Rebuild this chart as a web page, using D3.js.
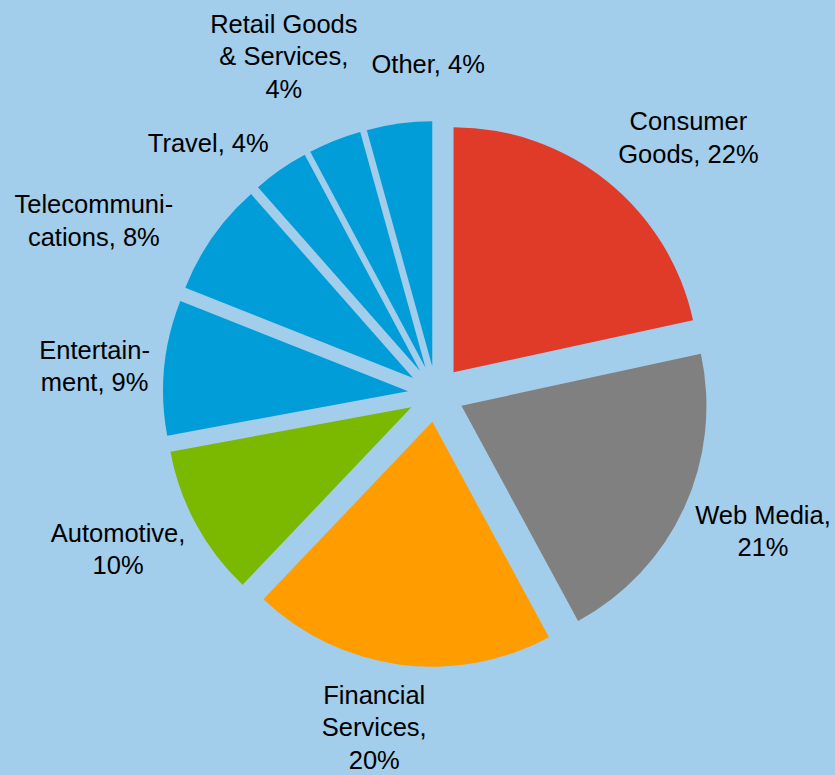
<!DOCTYPE html>
<html>
<head>
<meta charset="utf-8">
<script src="https://cdn.jsdelivr.net/npm/d3@7"></script>
<style>
  html, body { margin: 0; padding: 0; background: #a2cdeb; }
  svg { display: block; }
</style>
</head>
<body>
<div id="chart"></div>
<script>
// shares of each sector (percent)
const categories = ["Consumer Goods", "Web Media", "Financial Services", "Automotive",
  "Entertainment", "Telecommunications", "Travel", "Retail Goods & Services", "Other"];
const values = [21.6, 20.5, 20.0, 10.0, 8.9, 7.5, 3.7, 3.5, 4.3];
const colors = ["#e03a28", "#808080", "#ff9c00", "#7ab900",
  "#009dd9", "#009dd9", "#009dd9", "#009dd9", "#009dd9"];
// label text, "#" is replaced with the rounded percent
const labelLines = [
  ["Consumer", "Goods, #"],
  ["Web Media,", "#"],
  ["Financial", "Services,", "#"],
  ["Automotive,", "#"],
  ["Entertain-", "ment, #"],
  ["Telecommuni-", "cations, #"],
  ["Travel, #"],
  ["Retail Goods", "& Services,", "#"],
  ["Other, #"]
];

const width = 835, height = 775;
const cx = 436, cy = 394;
const radius = 245, explode = 28, labelRadius = 340;
const fontSize = 25.5, lineHeight = 32.5;

// hand tweaks so labels sit where the best-fit placement put them
const labelNudge = {
  "Consumer Goods": [39, 8], "Web Media": [18, -5], "Financial Services": [-17, -4],
  "Automotive": [-19, -7], "Entertainment": [-3, 5], "Telecommunications": [-64, 22],
  "Travel": [-34, 28], "Retail Goods & Services": [-26, -22], "Other": [38, 7]
};

const data = categories.map((c, i) => ({ name: c, value: values[i], color: colors[i], lines: labelLines[i] }));

const pie = d3.pie().sort(null).value(d => d.value);
const arc = d3.arc().innerRadius(0).outerRadius(radius);

const svg = d3.select("#chart").append("svg")
  .attr("width", width)
  .attr("height", height);

svg.append("rect").attr("width", width).attr("height", height).attr("fill", "#a2cdeb");

const g = svg.append("g").attr("transform", `translate(${cx},${cy})`);

const arcs = pie(data);

// exploded slices, each pushed out along its bisector
g.selectAll("path")
  .data(arcs)
  .enter()
  .append("path")
  .attr("d", arc)
  .attr("fill", d => d.data.color)
  .attr("transform", d => {
    const a = (d.startAngle + d.endAngle) / 2;
    return `translate(${Math.sin(a) * explode},${-Math.cos(a) * explode})`;
  });

const labels = g.selectAll("text")
  .data(arcs)
  .enter()
  .append("text")
  .attr("text-anchor", "middle")
  .attr("font-family", "Liberation Sans, Arial, sans-serif")
  .attr("font-size", fontSize)
  .attr("fill", "#000")
  .attr("transform", d => {
    const a = (d.startAngle + d.endAngle) / 2;
    const n = labelNudge[d.data.name];
    const x = Math.sin(a) * labelRadius + n[0];
    const y = -Math.cos(a) * labelRadius + n[1];
    return `translate(${x},${y})`;
  });

labels.each(function(d) {
  const p = Math.round(d.data.value) + "%";
  const lines = d.data.lines.map(l => l.replace("#", p));
  const top = -(lines.length - 1) * lineHeight / 2 + fontSize * 0.358;
  d3.select(this).selectAll("tspan")
    .data(lines)
    .enter()
    .append("tspan")
    .attr("x", 0)
    .attr("y", (l, i) => top + i * lineHeight)
    .text(l => l);
});
</script>
</body>
</html>
